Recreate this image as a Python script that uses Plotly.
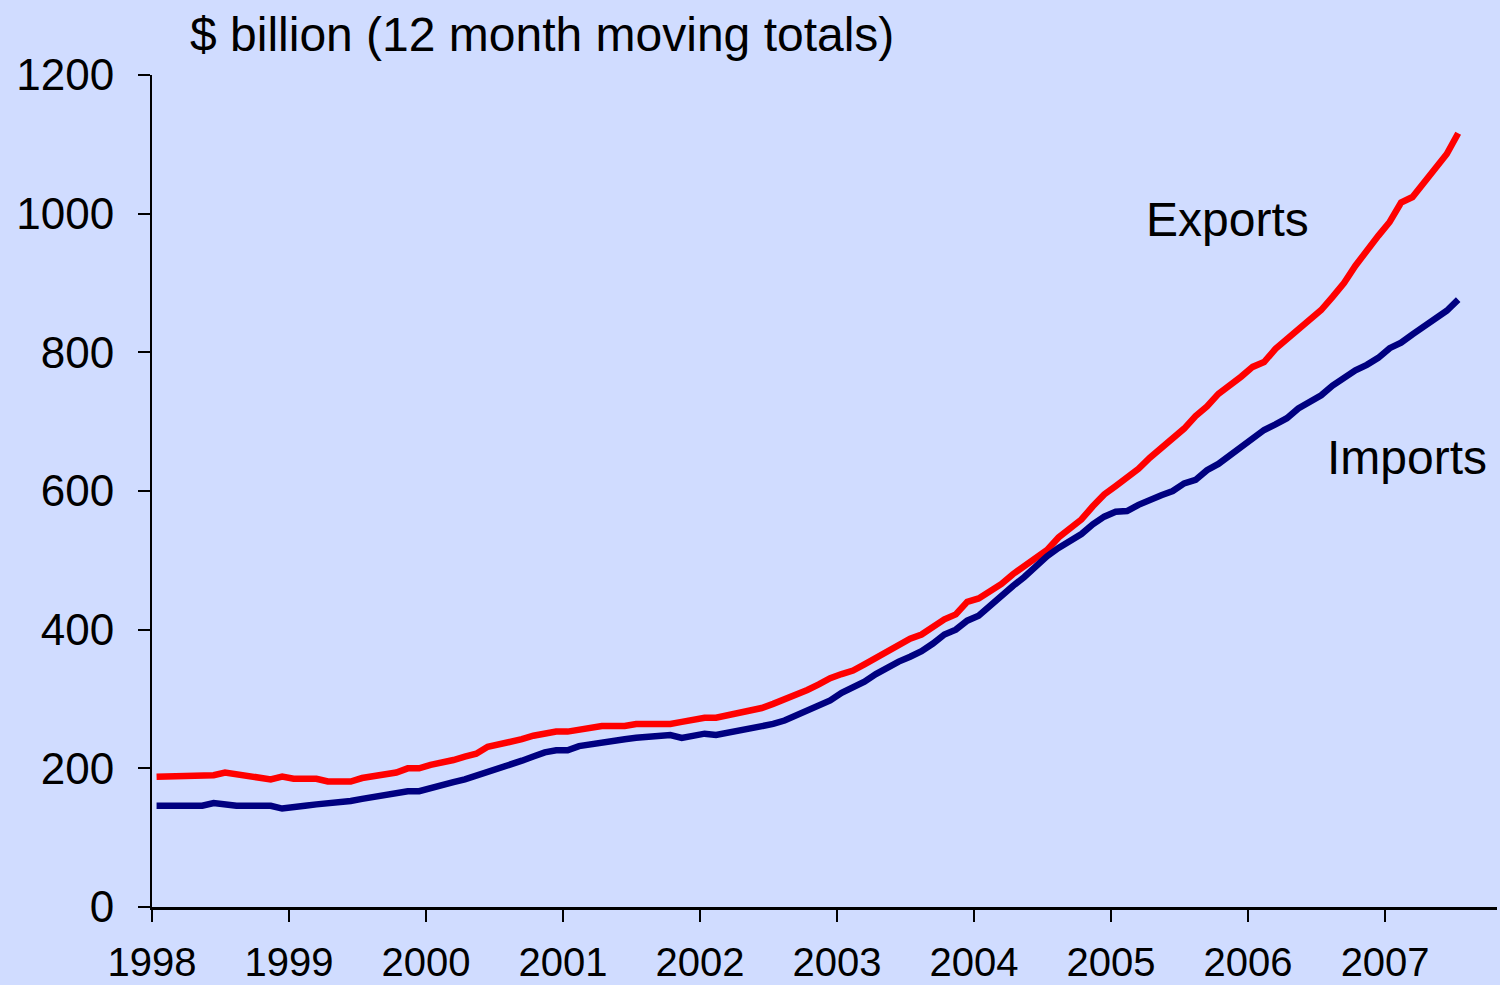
import plotly.graph_objects as go

# monthly 12-month moving totals, Jan 1998 .. Jul 2007 ($ billion)
exports = [
    188, 188, 190, 190, 190, 190, 194, 191, 190, 187, 184, 188,
    185, 185, 185, 181, 181, 181, 186, 188, 191, 194, 200, 200,
    205, 208, 212, 217, 221, 231, 234, 239, 242, 247, 250, 253,
    253, 256, 259, 261, 261, 261, 264, 264, 264, 264, 267, 270,
    273, 273, 276, 279, 282, 287, 293, 299, 307, 313, 321, 330,
    336, 341, 350, 359, 368, 376, 387, 393, 404, 415, 422, 440,
    445, 455, 466, 480, 491, 503, 515, 533, 547, 559, 578, 595,
    607, 620, 632, 648, 662, 676, 690, 708, 722, 740, 752, 765,
    779, 786, 805, 819, 836, 848, 861, 880, 900, 925, 948, 968,
    988, 1016, 1024, 1045, 1066, 1086, 1116,
]
imports = [
    146, 146, 146, 146, 146, 150, 147, 146, 146, 146, 146, 142,
    145, 146, 148, 149, 150, 153, 156, 159, 162, 164, 167, 167,
    172, 177, 180, 184, 189, 194, 200, 206, 211, 217, 223, 226,
    226, 232, 235, 238, 241, 242, 244, 245, 248, 248, 244, 247,
    250, 248, 251, 254, 256, 259, 264, 269, 276, 282, 290, 298,
    309, 317, 325, 336, 346, 354, 361, 369, 380, 393, 400, 413,
    420, 435, 450, 463, 476, 492, 506, 518, 528, 538, 552, 563,
    570, 571, 580, 588, 594, 600, 611, 616, 630, 639, 651, 664,
    677, 688, 696, 705, 719, 729, 738, 752, 763, 774, 782, 792,
    806, 814, 826, 838, 849, 860, 876,
]
years = list(range(1998, 2008))
months = [1998 + (i + 0.4) / 12 for i in range(len(exports))]

BG = 'rgb(208,220,255)'
FONT = 'Liberation Sans, Arial, sans-serif'

fig = go.Figure()
fig.add_trace(go.Scatter(x=months, y=exports, mode='lines', name='Exports',
                         line=dict(color='#FF0000', width=6.5)))
fig.add_trace(go.Scatter(x=months, y=imports, mode='lines', name='Imports',
                         line=dict(color='#000080', width=6.5)))

fig.update_layout(
    width=1500, height=985,
    paper_bgcolor=BG, plot_bgcolor=BG,
    showlegend=False,
    margin=dict(l=152, r=3, t=75, b=78, autoexpand=False),
    font=dict(family=FONT, size=42, color='black'),
)

fig.update_xaxes(
    range=[1998, 1998 + 117.8 / 12],
    tickvals=years, ticktext=[str(y) for y in years],
    ticks='outside', ticklen=12, tickwidth=2, tickcolor='black',
    showline=True, linecolor='black', linewidth=3,
    showgrid=False, zeroline=False,
    tickfont=dict(size=40), ticklabelstandoff=6,
)
fig.update_yaxes(
    range=[0, 1200], tickvals=[0, 200, 400, 600, 800, 1000, 1200],
    ticks='outside', ticklen=12, tickwidth=2, tickcolor='black',
    showline=True, linecolor='black', linewidth=2,
    showgrid=False, zeroline=False,
    tickfont=dict(size=44), ticklabelstandoff=15,
)

fig.add_annotation(text='$ billion (12 month moving totals)', xref='paper', yref='paper',
                   x=(188 - 152) / 1345, y=1 + 40 / 832, xanchor='left', yanchor='middle',
                   showarrow=False, font=dict(size=48))
fig.add_annotation(text='Exports', xref='x', yref='y', x=2006.46, y=991,
                   xanchor='right', yanchor='middle', showarrow=False, font=dict(size=48))
fig.add_annotation(text='Imports', xref='x', yref='y', x=2007.76, y=649,
                   xanchor='right', yanchor='middle', showarrow=False, font=dict(size=48))

fig.write_html("out.html", config={'displayModeBar': False},
               post_script="document.body.style.margin='0';")
